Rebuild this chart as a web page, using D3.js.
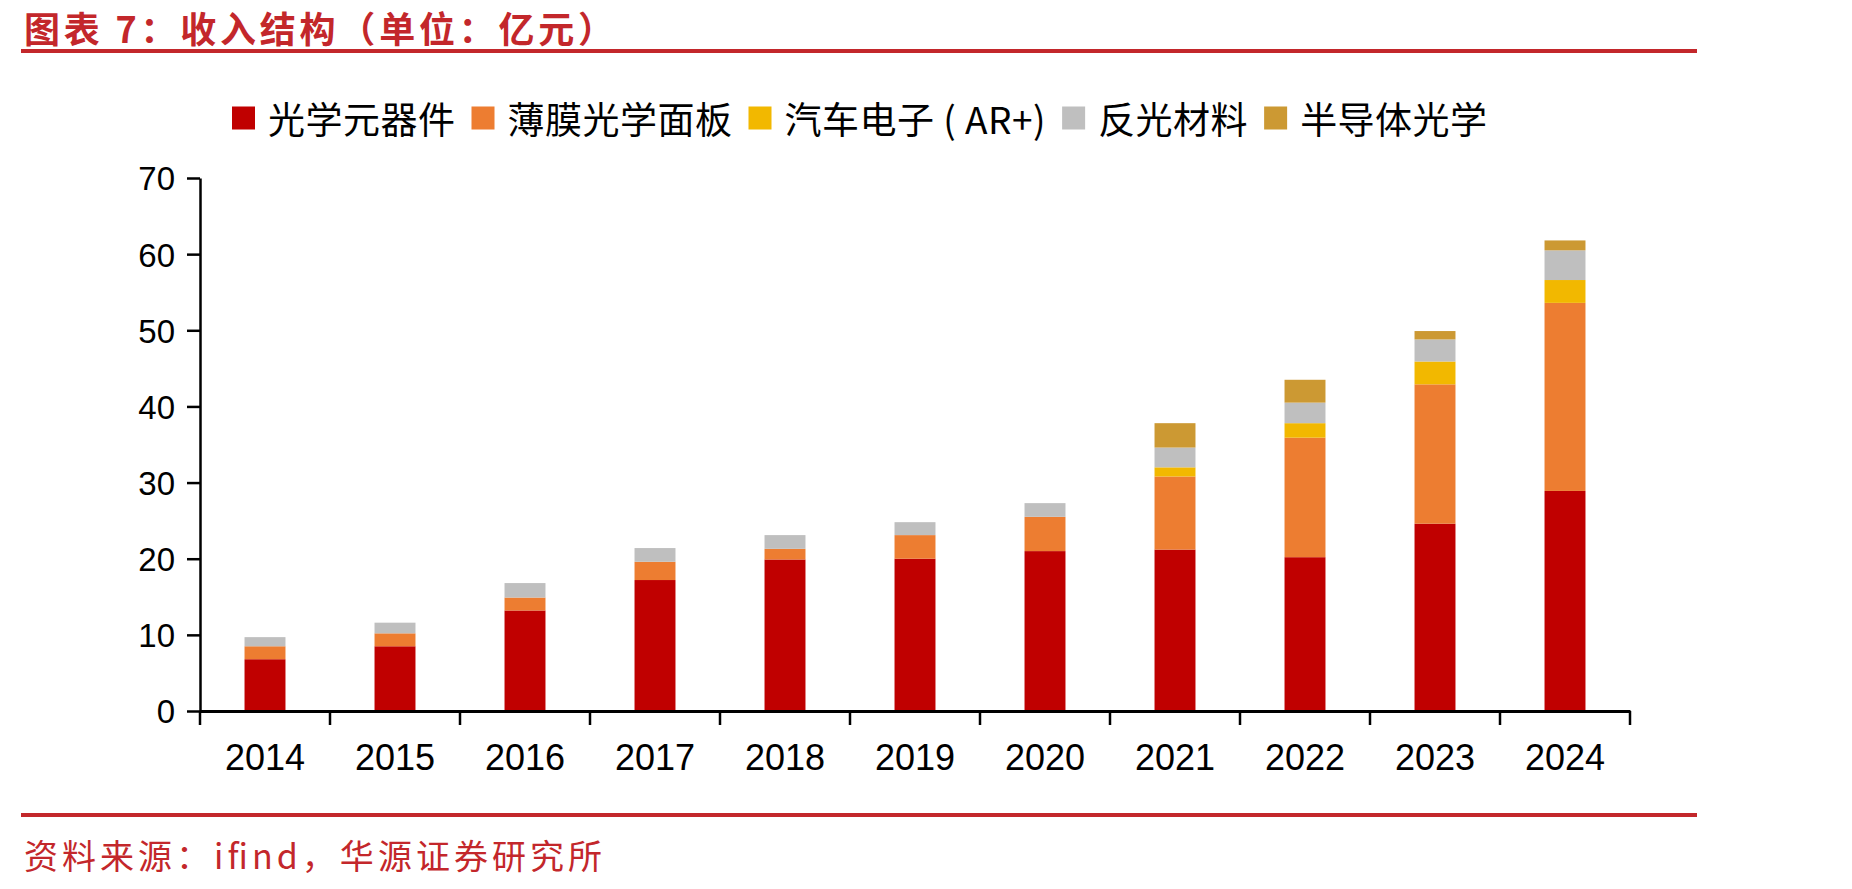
<!DOCTYPE html>
<html>
<head>
<meta charset="utf-8">
<script src="https://cdn.jsdelivr.net/npm/d3@7"></script>
<style>
  html, body { margin: 0; padding: 0; background: #fff; }
  svg { display: block; }
</style>
</head>
<body>
<div id="svg-container"></div>
<script>
const years = ['2014', '2015', '2016', '2017', '2018', '2019', '2020', '2021', '2022', '2023', '2024']
const seriesNames = ['光学元器件', '薄膜光学面板', '汽车电子 ( AR+)', '反光材料', '半导体光学']
const opticalParts = [6.8, 8.5, 13.2, 17.2, 19.9, 20.0, 21.0, 21.2, 20.2, 24.6, 28.9]
const filmPanel = [1.7, 1.7, 1.7, 2.4, 1.4, 3.1, 4.5, 9.6, 15.7, 18.3, 24.7]
const autoElectronics = [0, 0, 0, 0, 0, 0, 0, 1.2, 1.9, 3.0, 3.0]
const reflective = [1.2, 1.4, 1.9, 1.8, 1.8, 1.7, 1.8, 2.6, 2.7, 2.9, 3.9]
const semiconductor = [0, 0, 0, 0, 0, 0, 0, 3.2, 3.0, 1.1, 1.3]
const yTicks = [0, 10, 20, 30, 40, 50, 60, 70]

const colors = ['#c00000', '#ed7d31', '#f2b800', '#bfbfbf', '#cc9933']
const accent = '#c3272b'

const width = 1852
const height = 889
const margin = { top: 178, right: 222, bottom: 178, left: 200 }

const svg = d3
  .select('#svg-container')
  .append('svg')
  .attr('width', width)
  .attr('height', height)
  .attr('viewBox', `0 0 ${width} ${height}`)

const table = years.map((y, i) => ({
  year: y,
  [seriesNames[0]]: opticalParts[i],
  [seriesNames[1]]: filmPanel[i],
  [seriesNames[2]]: autoElectronics[i],
  [seriesNames[3]]: reflective[i],
  [seriesNames[4]]: semiconductor[i],
}))

const stacked = d3.stack().keys(seriesNames)(table)

const xScale = d3
  .scaleBand()
  .domain(years)
  .range([margin.left, width - margin.right])
  .paddingInner(0.685)
  .paddingOuter(0.3425)

const yScale = d3
  .scaleLinear()
  .domain([0, 70])
  .range([height - margin.bottom, margin.top])

const colorScale = d3.scaleOrdinal().domain(seriesNames).range(colors)

// header
svg
  .append('text')
  .attr('x', 24)
  .attr('y', 27)
  .attr('dominant-baseline', 'central')
  .attr('fill', accent)
  .style('font-family', '"Noto Sans CJK SC", sans-serif')
  .style('font-weight', 700)
  .style('font-size', '36px')
  .attr('textLength', 590)
  .attr('lengthAdjust', 'spacing')
  .text('图表 7：收入结构（单位：亿元）')

svg
  .append('rect')
  .attr('x', 21)
  .attr('y', 49)
  .attr('width', 1676)
  .attr('height', 4)
  .attr('fill', accent)

svg
  .append('rect')
  .attr('x', 21)
  .attr('y', 813)
  .attr('width', 1676)
  .attr('height', 4)
  .attr('fill', accent)

svg
  .append('text')
  .attr('x', 24)
  .attr('y', 854)
  .attr('dominant-baseline', 'central')
  .attr('fill', accent)
  .style('font-family', '"Noto Sans CJK SC", sans-serif')
  .style('font-size', '34px')
  .attr('textLength', 578)
  .attr('lengthAdjust', 'spacing')
  .text('资料来源：ifind，华源证券研究所')

// bars
svg
  .append('g')
  .selectAll('g.series')
  .data(stacked)
  .join('g')
  .attr('class', 'series')
  .attr('fill', d => colorScale(d.key))
  .selectAll('rect')
  .data(d => d.filter(s => s[1] - s[0] > 0))
  .join('rect')
  .attr('x', d => xScale(d.data.year))
  .attr('y', d => yScale(d[1]))
  .attr('width', xScale.bandwidth())
  .attr('height', d => yScale(d[0]) - yScale(d[1]))

// y axis
svg
  .append('g')
  .attr('transform', `translate(${margin.left}, 0)`)
  .call(d3.axisLeft(yScale).tickValues(yTicks).tickSize(13).tickPadding(12).tickSizeOuter(0))
  .call(g => {
    g.selectAll('.domain').attr('stroke', '#000').attr('stroke-width', 2.5)
    g.selectAll('.tick line').attr('stroke', '#000').attr('stroke-width', 2.5)
    g.selectAll('.tick text')
      .attr('fill', '#000')
      .attr('dy', '0.36em')
      .style('font-family', '"Liberation Sans", Arial, sans-serif')
      .style('font-size', '33px')
  })

// x axis
const x0 = yScale(0)
svg
  .append('g')
  .attr('transform', `translate(0, ${x0})`)
  .call(d3.axisBottom(xScale).tickSize(0).tickPadding(0).tickSizeOuter(0))
  .call(g => {
    g.selectAll('.domain').attr('stroke', '#000').attr('stroke-width', 3)
    g.selectAll('.tick text')
      .attr('fill', '#000')
      .attr('y', 46)
      .attr('dy', '0.36em')
      .style('font-family', '"Liberation Sans", Arial, sans-serif')
      .style('font-size', '36px')
  })

const boundaries = years.map(y => xScale(y) - xScale.step() * xScale.paddingOuter())
boundaries.push(width - margin.right)

svg
  .append('g')
  .selectAll('line')
  .data(boundaries)
  .join('line')
  .attr('x1', d => d)
  .attr('x2', d => d)
  .attr('y1', x0)
  .attr('y2', x0 + 14)
  .attr('stroke', '#000')
  .attr('stroke-width', 2.5)

// legend
const legend = svg.append('g').attr('transform', 'translate(232, 118)')
let lx = 0
seriesNames.forEach(name => {
  const item = legend.append('g').attr('transform', `translate(${lx}, 0)`)
  item
    .append('rect')
    .attr('x', 0)
    .attr('y', -11.5)
    .attr('width', 23)
    .attr('height', 23)
    .attr('fill', colorScale(name))
  const t = item
    .append('text')
    .attr('x', 36)
    .attr('y', 0)
    .attr('dominant-baseline', 'central')
    .attr('fill', '#000')
    .style('font-family', '"Noto Sans CJK SC", sans-serif')
    .style('font-size', '37px')
    .style('letter-spacing', '0.5px')
    .text(name)
  lx += 36 + t.node().getComputedTextLength() + 16
})
</script>
</body>
</html>
